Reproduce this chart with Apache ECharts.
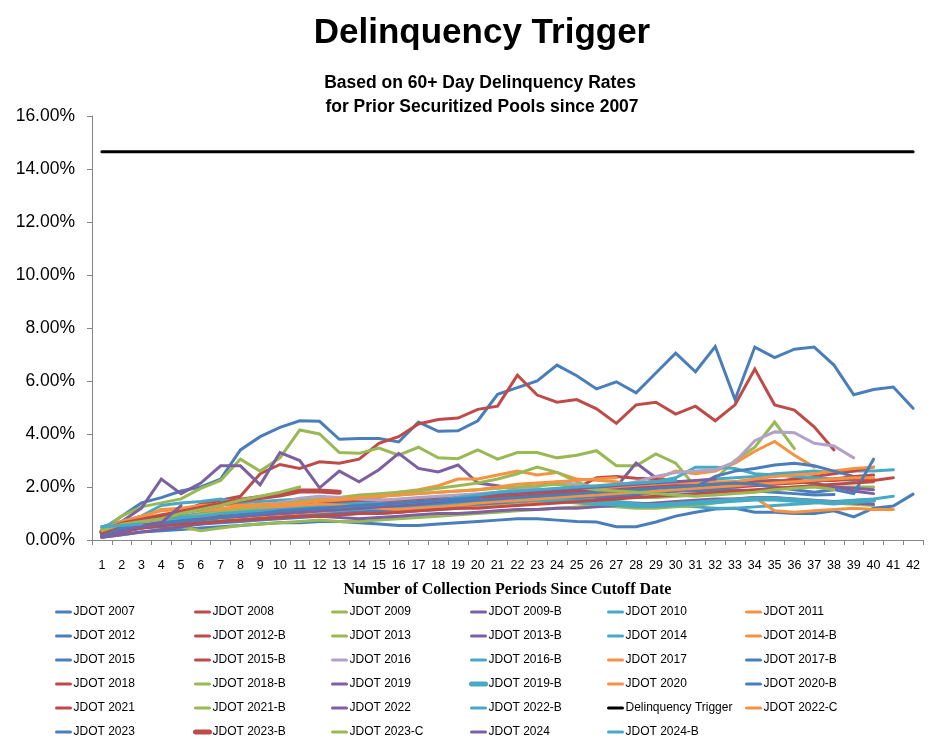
<!DOCTYPE html>
<html>
<head>
<meta charset="utf-8">
<script src="https://cdn.jsdelivr.net/npm/echarts@6/dist/echarts.min.js"></script>
<style>html,body{margin:0;padding:0;background:#fff}#c{width:936px;height:751px}</style>
</head>
<body>
<div id="c"></div>
<script>
// ---- data (values in %) ----
const periods = ['1','2','3','4','5','6','7','8','9','10','11','12','13','14','15','16','17','18','19','20','21','22','23','24','25','26','27','28','29','30','31','32','33','34','35','36','37','38','39','40','41','42'];
const yTicks = [0, 2, 4, 6, 8, 10, 12, 14, 16];
const triggerLevel = [14.65,14.65,14.65,14.65,14.65,14.65,14.65,14.65,14.65,14.65,14.65,14.65,14.65,14.65,14.65,14.65,14.65,14.65,14.65,14.65,14.65,14.65,14.65,14.65,14.65,14.65,14.65,14.65,14.65,14.65,14.65,14.65,14.65,14.65,14.65,14.65,14.65,14.65,14.65,14.65,14.65,14.65];

const s2007 = [0.4,0.9,1.4,1.6,1.85,2.0,2.3,3.4,3.9,4.25,4.5,4.48,3.8,3.83,3.83,3.7,4.45,4.1,4.12,4.5,5.5,5.75,6.0,6.6,6.2,5.7,5.97,5.55,6.3,7.05,6.35,7.3,5.3,7.28,6.88,7.2,7.28,6.6,5.48,5.68,5.77,4.97];
const s2008 = [0.3,0.55,0.75,0.9,1.1,1.35,1.5,1.65,2.5,2.85,2.7,2.95,2.9,3.05,3.65,3.9,4.38,4.55,4.6,4.93,5.05,6.22,5.47,5.2,5.3,4.95,4.4,5.1,5.2,4.75,5.05,4.5,5.1,6.45,5.1,4.9,4.27,3.4];
const s2009 = [0.35,0.9,1.25,1.4,1.55,1.95,2.25,3.05,2.6,3.1,4.15,4.0,3.3,3.27,3.47,3.2,3.5,3.1,3.07,3.4,3.05,3.3,3.3,3.1,3.2,3.37,2.8,2.8,3.25,2.9,2.0,2.3,3.0,3.5,4.45,3.45];
const s2009B = [0.2,0.7,1.2,2.3,1.75,2.15,2.8,2.8,2.08,3.3,3.0,1.97,2.6,2.2,2.65,3.27,2.7,2.57,2.83,2.15,2.05,1.9,1.85,1.75,1.7,1.75,2.0,2.9,2.35,2.2,2.1,2.0,2.1,2.2,2.15,2.3,2.1,2.0,1.85,1.75];
const s2010 = [0.5,0.7,0.9,1.3,1.4,1.45,1.55,1.4,1.45,1.5,1.55,1.5,1.35,1.3,1.25,1.35,1.4,1.5,1.6,1.7,1.8,1.85,1.9,1.75,1.7,1.65,1.7,1.8,1.95,2.1,2.2,2.3,2.35,2.4,2.5,2.55,2.6,2.55,2.6,2.6,2.65];
const s2011 = [0.3,0.6,0.85,1.15,1.2,1.3,1.35,1.3,1.35,1.4,1.45,1.4,1.45,1.5,1.6,1.8,1.9,2.05,2.3,2.3,2.45,2.6,2.45,2.55,2.3,2.25,2.2,2.0,2.3,2.6,2.5,2.6,2.9,3.35,3.72,3.2,2.75];
const s2012 = [0.1,0.2,0.3,0.35,0.4,0.45,0.5,0.55,0.6,0.65,0.65,0.7,0.7,0.65,0.6,0.55,0.55,0.6,0.65,0.7,0.75,0.8,0.8,0.75,0.7,0.68,0.5,0.5,0.68,0.9,1.05,1.17,1.2,1.05,1.05,1.0,1.0,1.1,0.87,1.2,1.28,1.73];
const s2012B = [0.15,0.35,0.5,0.6,0.7,0.8,0.9,1.0,1.05,1.15,1.25,1.3,1.35,1.4,1.45,1.5,1.55,1.6,1.65,1.7,1.75,1.8,1.85,1.9,1.95,2.35,2.4,2.33,2.3,2.2,2.1,2.15,2.2,2.25,2.2,2.3,2.4,2.5,2.6,2.75];
const s2013 = [0.3,0.5,0.6,0.65,0.7,0.75,0.9,1.05,1.15,1.3,1.45,1.55,1.6,1.7,1.75,1.8,1.85,1.95,2.05,2.15,2.3,2.5,2.75,2.55,2.2,1.9,1.7,1.6,1.6,1.65,1.7,1.75,1.8,1.85,1.95,2.0,2.05,2.0,2.0,2.0];
const s2013B = [0.2,0.4,0.55,0.6,0.65,0.75,0.85,0.9,0.95,1.0,1.05,1.1,1.15,1.2,1.2,1.25,1.3,1.35,1.4,1.45,1.5,1.55,1.6,1.65,1.65,1.6,1.6,1.7,1.8,1.85,1.95,2.0,2.1,2.2,2.25,2.2,2.15,2.0,1.95,1.9];
const s2014 = [0.4,0.5,0.6,0.7,0.8,0.85,0.9,0.95,1.0,1.05,1.1,1.15,1.15,1.2,1.25,1.3,1.3,1.35,1.4,1.45,1.5,1.55,1.6,1.7,1.8,1.9,2.0,2.1,2.2,2.35,2.75,2.75,2.7,2.5,2.45,2.4,2.35,2.3,2.25,2.3];
const s2014B = [0.2,0.45,0.6,0.75,0.85,0.95,1.0,1.05,1.1,1.15,1.25,1.3,1.35,1.35,1.4,1.45,1.5,1.55,1.6,1.65,1.65,1.7,1.75,1.8,1.85,1.9,1.95,2.0,2.05,2.1,2.15,2.2,2.2,2.3,2.4,2.45,2.5,2.6,2.7,2.75];
const s2015 = [0.15,0.3,0.45,0.5,0.55,0.6,0.65,0.7,0.75,0.8,0.85,0.9,0.95,1.0,1.0,1.05,1.1,1.15,1.2,1.25,1.3,1.4,1.5,1.55,1.6,1.65,1.7,1.75,1.8,1.9,2.0,2.4,2.6,2.7,2.83,2.9,2.8,2.6,2.4,2.3];
const s2015B = [0.2,0.4,0.5,0.6,0.7,0.8,0.9,1.0,1.1,1.2,1.3,1.35,1.4,1.45,1.5,1.5,1.55,1.6,1.6,1.65,1.7,1.75,1.8,1.85,1.9,1.85,1.8,1.75,1.8,1.85,1.9,1.95,2.0,2.05,2.1,2.15,2.2,2.3,2.4,2.45];
const s2016 = [0.3,0.5,0.7,0.85,0.9,1.0,1.1,1.2,1.3,1.4,1.58,1.65,1.6,1.55,1.5,1.55,1.6,1.65,1.7,1.75,1.8,1.9,2.0,2.2,2.1,2.0,2.05,2.2,2.4,2.55,2.6,2.65,2.95,3.75,4.08,4.05,3.65,3.55,3.1];
const s2016B = [0.45,0.55,0.6,0.7,0.75,0.8,0.85,0.9,0.95,1.0,1.0,1.05,1.1,1.1,1.15,1.2,1.25,1.3,1.35,1.4,1.4,1.45,1.5,1.55,1.55,1.5,1.45,1.4,1.35,1.3,1.25,1.2,1.2,1.25,1.3,1.35,1.4,1.45,1.5,1.55,1.65];
const s2017 = [0.25,0.45,0.55,0.6,0.65,0.7,0.75,0.8,0.85,0.9,0.95,1.0,1.0,1.05,1.1,1.1,1.15,1.2,1.25,1.3,1.35,1.4,1.45,1.45,1.4,1.35,1.3,1.3,1.35,1.4,1.45,1.5,1.55,1.6,1.1,1.05,1.1,1.15,1.2,1.15,1.15];
const s2017B = [0.2,0.35,0.45,0.55,0.6,0.65,0.7,0.75,0.8,0.85,0.9,0.95,1.0,1.05,1.1,1.15,1.2,1.25,1.3,1.35,1.4,1.45,1.5,1.55,1.6,1.65,1.7,1.75,1.8,1.85,1.85,1.9,1.9,1.85,1.8,1.75,1.7,1.72];
const s2018 = [0.2,0.4,0.55,0.65,0.75,0.85,0.95,1.0,1.05,1.1,1.15,1.2,1.25,1.3,1.3,1.35,1.4,1.45,1.5,1.55,1.6,1.65,1.7,1.75,1.8,1.85,1.9,1.95,2.0,2.05,2.05,2.1,2.1,2.15,2.2,2.2,2.25,2.25,2.3,2.25,2.35];
const s2018B = [0.25,0.45,0.55,0.6,0.5,0.35,0.45,0.55,0.6,0.65,0.7,0.75,0.7,0.7,0.75,0.8,0.85,0.9,0.95,1.0,1.05,1.1,1.15,1.2,1.25,1.3,1.25,1.2,1.2,1.25,1.3,1.4,1.5,1.6,1.55,1.5,1.45,1.4,1.35,1.3];
const s2019 = [0.1,0.2,0.3,0.4,0.5,0.6,0.7,0.75,0.8,0.85,0.9,0.9,0.85,0.8,0.85,0.9,0.95,1.0,1.0,1.05,1.1,1.15,1.15,1.2,1.2,1.25,1.3,1.35,1.4,1.45,1.5,1.55,1.55,1.6,1.6,1.55,1.5,1.45,1.4,1.35];
const s2019B = [0.3,0.5,0.6,0.75,0.85,0.95,1.05,1.1,1.15,1.2,1.25,1.3,1.3,1.35,1.35,1.3,1.3,1.35,1.4,1.45,1.5,1.5,1.55,1.5,1.45,1.4,1.35,1.3,1.3,1.35,1.4,1.45,1.5,1.55,1.55,1.5,1.45,1.4,1.45,1.5];
const s2020 = [0.35,0.6,0.8,0.95,1.05,1.1,1.15,1.2,1.2,1.25,1.3,1.35,1.3,1.25,1.2,1.15,1.2,1.25,1.3,1.4,1.45,1.5,1.55,1.6,1.65,1.7,1.75,1.8,1.85,1.9,1.95,2.0,2.05,2.1,2.15,2.2,2.25,2.3,2.35,2.35];
const s2020B = [0.3,0.5,0.6,0.7,0.75,0.8,0.85,0.9,0.95,1.0,1.05,1.1,1.15,1.2,1.25,1.3,1.35,1.4,1.45,1.5,1.55,1.6,1.65,1.7,1.75,1.8,1.85,1.9,1.95,2.0,2.05,2.1,2.15,2.1,2.0,1.9,1.8,1.9,1.75,3.05];
const s2021 = [0.15,0.3,0.45,0.55,0.6,0.65,0.7,0.75,0.8,0.85,0.9,0.9,0.95,1.0,1.0,1.05,1.1,1.15,1.2,1.2,1.25,1.3,1.35,1.4,1.45,1.5,1.55,1.6,1.65,1.7,1.75,1.8,1.85,1.9,1.95,2.0,2.05,2.1,2.15,2.2];
const s2021B = [0.25,0.5,0.65,0.75,0.85,0.95,1.05,1.15,1.25,1.35,1.45,1.5,1.55,1.6,1.65,1.7,1.75,1.8,1.85,1.9,1.95,2.0,2.05,2.1,2.0,1.9,1.85,1.8,1.75,1.7,1.65,1.7,1.75,1.8,1.9,1.95,2.0,1.9];
const s2022 = [0.15,0.35,0.5,0.6,0.7,0.8,0.85,0.9,0.95,1.0,1.05,1.1,1.15,1.2,1.25,1.3,1.35,1.45,1.55,1.65,1.75,1.8,1.85,1.9,1.95,2.0,2.05,2.1,2.15,2.2,2.25,2.3];
const s2022B = [0.5,0.6,0.7,0.8,0.85,0.9,1.0,1.05,1.1,1.15,1.2,1.25,1.25,1.3,1.35,1.4,1.45,1.5,1.6,1.7,1.8,1.85,1.9,1.95,2.0,2.05,2.1,2.15,2.2,2.25];
const s2022C = [0.4,0.7,0.9,1.1,1.15,1.2,1.2,1.25,1.3,1.35,1.4,1.5,1.55,1.6,1.65,1.7,1.75,1.8,1.85,1.9,2.0,2.1,2.15,2.2,2.25,2.3,2.35];
const s2023 = [0.2,0.45,0.55,0.65,0.7,0.75,0.85,0.95,1.0,1.1,1.15,1.2,1.25,1.3,1.35,1.4,1.45,1.5,1.55,1.6];
const s2023B = [0.3,0.6,0.75,0.9,1.05,1.2,1.35,1.5,1.6,1.7,1.85,1.85,1.8];
const s2023C = [0.35,0.6,0.7,0.8,1.0,1.15,1.3,1.5,1.65,1.8,2.0];
const s2024 = [0.1,0.3,0.55,0.65,1.3];
const s2024B = [0.5,0.55,0.6];

// legend columns (the reference lays the legend out in 6 columns)
const legendCols = [
  ['JDOT 2007','JDOT 2012','JDOT 2015','JDOT 2018','JDOT 2021','JDOT 2023'],
  ['JDOT 2008','JDOT 2012-B','JDOT 2015-B','JDOT 2018-B','JDOT 2021-B','JDOT 2023-B'],
  ['JDOT 2009','JDOT 2013','JDOT 2016','JDOT 2019','JDOT 2022','JDOT 2023-C'],
  ['JDOT 2009-B','JDOT 2013-B','JDOT 2016-B','JDOT 2019-B','JDOT 2022-B','JDOT 2024'],
  ['JDOT 2010','JDOT 2014','JDOT 2017','JDOT 2020','Delinquency Trigger','JDOT 2024-B'],
  ['JDOT 2011','JDOT 2014-B','JDOT 2017-B','JDOT 2020-B','JDOT 2022-C']
];

// ---- build ----
const C = {blue:'#4A7EBB', red:'#BE4B48', green:'#98B954', purple:'#7D60A0', aqua:'#46AAC5', orange:'#F69240', lilac:'#B3A2C7', black:'#000000'};
const defs = [
  ['JDOT 2007', s2007, C.blue], ['JDOT 2008', s2008, C.red], ['JDOT 2009', s2009, C.green],
  ['JDOT 2009-B', s2009B, C.purple], ['JDOT 2010', s2010, C.aqua], ['JDOT 2011', s2011, C.orange],
  ['JDOT 2012', s2012, C.blue], ['JDOT 2012-B', s2012B, C.red], ['JDOT 2013', s2013, C.green],
  ['JDOT 2013-B', s2013B, C.purple], ['JDOT 2014', s2014, C.aqua], ['JDOT 2014-B', s2014B, C.orange],
  ['JDOT 2015', s2015, C.blue], ['JDOT 2015-B', s2015B, C.red], ['JDOT 2016', s2016, C.lilac],
  ['JDOT 2016-B', s2016B, C.aqua], ['JDOT 2017', s2017, C.orange], ['JDOT 2017-B', s2017B, C.blue],
  ['JDOT 2018', s2018, C.red], ['JDOT 2018-B', s2018B, C.green], ['JDOT 2019', s2019, C.purple],
  ['JDOT 2019-B', s2019B, C.aqua, 5], ['JDOT 2020', s2020, C.orange], ['JDOT 2020-B', s2020B, C.blue],
  ['JDOT 2021', s2021, C.red], ['JDOT 2021-B', s2021B, C.green], ['JDOT 2022', s2022, C.purple],
  ['JDOT 2022-B', s2022B, C.aqua], ['Delinquency Trigger', triggerLevel, C.black], ['JDOT 2022-C', s2022C, C.orange],
  ['JDOT 2023', s2023, C.blue], ['JDOT 2023-B', s2023B, C.red, 5], ['JDOT 2023-C', s2023C, C.green],
  ['JDOT 2024', s2024, C.purple], ['JDOT 2024-B', s2024B, C.aqua]
];
const series = defs.map(d => ({
  name: d[0], type: 'line', data: d[1], symbol: 'none', showSymbol: false,
  lineStyle: {color: d[2], width: d[3] || 3, cap: 'round', join: 'miter'},
  itemStyle: {color: d[2]},
  emphasis: {disabled: true}, animation: false
}));

const colLeft = [50, 188, 326, 464, 602, 740];
const legends = legendCols.map((names, i) => ({
  data: names, orient: 'vertical', left: colLeft[i], top: 601,
  itemWidth: 14, itemHeight: 14, itemGap: 12, selectedMode: false,
  itemStyle: {opacity: 0},
  lineStyle: {width: 'inherit'},
  textStyle: {fontFamily: '"Liberation Sans", Arial, sans-serif', fontSize: 12, color: '#000', padding: [0,0,0,-2]}
}));

const titleFont = '"Liberation Sans", Arial, sans-serif';
const chart = echarts.init(document.getElementById('c'), null, {renderer: 'canvas'});
chart.setOption({
  animation: false,
  backgroundColor: '#fff',
  graphic: [
    {type: 'text', x: 482, y: 33, style: {text: 'Delinquency Trigger', font: 'bold 35px ' + titleFont, fill: '#000', align: 'center', verticalAlign: 'middle'}},
    {type: 'text', x: 480, y: 83, style: {text: 'Based on 60+ Day Delinquency Rates', font: 'bold 17.5px ' + titleFont, fill: '#000', align: 'center', verticalAlign: 'middle'}},
    {type: 'text', x: 482, y: 107, style: {text: 'for Prior Securitized Pools since 2007', font: 'bold 17.5px ' + titleFont, fill: '#000', align: 'center', verticalAlign: 'middle'}}
  ],
  legend: legends,
  grid: {left: 92, right: 13, top: 116, bottom: 211, containLabel: false},
  xAxis: {
    type: 'category', data: periods, boundaryGap: true,
    name: 'Number of Collection Periods Since Cutoff Date', nameLocation: 'middle', nameGap: 42,
    nameTextStyle: {fontFamily: '"Liberation Serif", "Times New Roman", serif', fontWeight: 'bold', fontSize: 16, color: '#000'},
    axisLine: {lineStyle: {color: '#868686', width: 1}},
    axisTick: {show: true, length: 5, inside: false, lineStyle: {color: '#868686'}, alignWithLabel: false},
    axisLabel: {interval: 0, margin: 19, fontFamily: '"Liberation Sans", Arial, sans-serif', fontSize: 12.5, color: '#000'},
    splitLine: {show: false}
  },
  yAxis: {
    type: 'value', min: yTicks[0], max: yTicks[yTicks.length - 1], interval: 2,
    axisLine: {show: true, lineStyle: {color: '#868686', width: 1}},
    axisTick: {show: true, length: 5, lineStyle: {color: '#868686'}},
    axisLabel: {margin: 17, fontFamily: '"Liberation Sans", Arial, sans-serif', fontSize: 17.5, color: '#000', formatter: v => v.toFixed(2) + '%'},
    splitLine: {show: false}
  },
  series: series
});
</script>
</body>
</html>
